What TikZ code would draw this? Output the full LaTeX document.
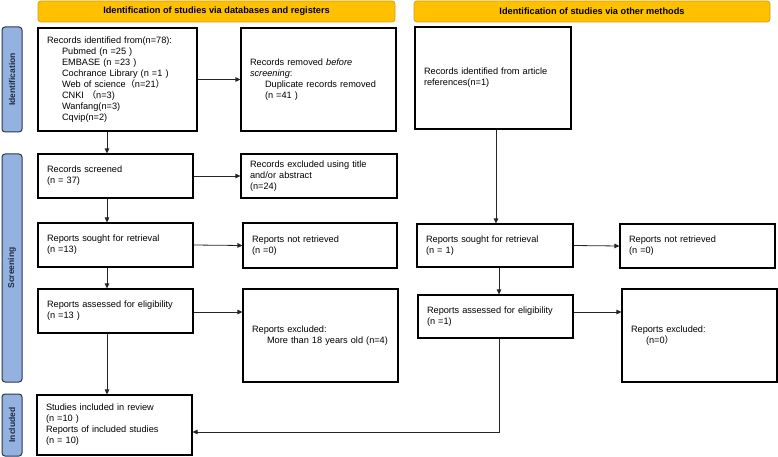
\documentclass[tikz,border=0pt]{standalone}
\usepackage{fontspec}
\setmainfont{Liberation Sans}
\newfontfamily\cjkf{Noto Sans CJK SC}
\usetikzlibrary{arrows.meta}
\hyphenpenalty=10000
\exhyphenpenalty=10000
\definecolor{banfill}{HTML}{FFC000}
\definecolor{banline}{HTML}{D4A017}
\definecolor{sidefill}{HTML}{94B2E0}
\definecolor{sideline}{HTML}{2B3550}
\definecolor{sidetext}{HTML}{1F2A44}
\newcommand{\fl}{{\cjkf （}}
\newcommand{\fr}{{\cjkf ）}}
\newcommand{\ind}{\hspace*{15pt}}
\tikzset{
  banner/.style={draw=banline, fill=banfill, line width=0.8pt, rounded corners=3pt,
    font=\fontsize{9.2}{11}\selectfont\bfseries, inner sep=0pt},
  side/.style={draw=sideline, fill=sidefill, line width=1pt, rounded corners=3pt,
    minimum width=20pt, inner sep=0pt},
  sidelabel/.style={rotate=90, text=sidetext, font=\fontsize{8.5}{10}\selectfont\bfseries},
  box/.style n args={2}{draw, line width=1.1pt, minimum height=#2, text width=#1-18pt,
    inner xsep=9pt, inner ysep=0pt, align=left, font=\fontsize{9.2}{11}\selectfont},
  arr/.style={draw=black!85, line width=0.8pt, -{Triangle[length=5pt,width=4.5pt]}}
}
\begin{document}
\begin{tikzpicture}[x=1pt,y=-1pt]
\useasboundingbox (0,0) rectangle (778,457);
% banners
\node[banner, minimum width=357pt, minimum height=21pt] (banL) at (216.5,11.5) {Identification of studies via databases and registers};
\node[banner, minimum width=356pt, minimum height=21pt] (banR) at (592,11.5) {Identification of studies via other methods};
% side labels
\node[side, minimum height=105pt] (sideI) at (12,79.5) {};
\node[sidelabel] (sideIt) at (sideI) {Identification};
\node[side, minimum height=228pt] (sideS) at (12,268) {};
\node[sidelabel] (sideSt) at (sideS) {Screening};
\node[side, minimum height=62pt] (sideC) at (12,425) {};
\node[sidelabel] (sideCt) at (sideC) {Included};
% boxes left
\node[box={159pt}{103pt}] (id) at (117.5,79.5) {Records identified from(n=78):\\
\ind Pubmed (n =25 )\\
\ind EMBASE (n =23 )\\
\ind Cochrance Library (n =1 )\\
\ind Web of science\fl n=21\fr\\
\ind CNKI \fl n=3)\\
\ind Wanfang(n=3)\\
\ind Cqvip(n=2)};
\node[box={155pt}{103pt}] (rem) at (318.5,79.5) {Records removed \textit{before}\\\textit{screening}:\\
\ind Duplicate records removed\\
\ind (n =41 )};
\node[box={156pt}{102pt}] (art) at (493,78) {Records identified from article references(n=1)};
\node[box={155pt}{44pt}] (scr) at (115.5,176) {Records screened\\(n = 37)};
\node[box={156pt}{44pt}] (exc) at (319,176) {Records excluded using title and/or abstract\\(n=24)};
\node[box={155pt}{44pt}] (soughtL) at (115.5,245) {Reports sought for retrieval\\(n =13)};
\node[box={154pt}{45pt}] (nrL) at (320,245.5) {Reports not retrieved\\(n =0)};
\node[box={156pt}{43pt}] (soughtR) at (495,245.5) {Reports sought for retrieval\\(n = 1)};
\node[box={155pt}{44pt}] (nrR) at (697.5,246) {Reports not retrieved\\(n =0)};
\node[box={155pt}{44pt}] (assL) at (115.5,311) {Reports assessed for eligibility\\(n =13 )};
\node[box={155pt}{93pt}] (exL) at (320.5,335.5) {Reports excluded:\\
\ind More than 18 years old (n=4)};
\node[box={155pt}{43pt}] (assR) at (495.5,316.5) {Reports assessed for eligibility\\(n =1)};
\node[box={155pt}{93pt}] (exR) at (699.5,335.5) {Reports excluded:\\
\ind (n=0\fr};
\node[box={155pt}{60pt}] (inc) at (114.5,425) {Studies included in review\\(n =10 )\\Reports of included studies\\(n = 10)};
% helper coordinates
\coordinate (xL) at (107,0);
\coordinate (xA) at (496,0);
\coordinate (xR) at (499,0);
\coordinate (y312) at (0,312);
\coordinate (y432) at (0,432);
% arrows
\draw[arr] (id.east) -- (rem.west);
\draw[arr] (id.south -| xL) -- (scr.north -| xL);
\draw[arr] (scr.east) -- (exc.west);
\draw[arr] (scr.south -| xL) -- (soughtL.north -| xL);
\draw[arr] (soughtL.east) -- (nrL.west);
\draw[arr] (soughtL.south -| xL) -- (assL.north -| xL);
\draw[arr] (assL.east |- y312) -- (exL.west |- y312);
\draw[arr] (assL.south -| xL) -- (inc.north -| xL);
\draw[arr] (art.south -| xA) -- (soughtR.north -| xA);
\draw[arr] (soughtR.east) -- (nrR.west);
\draw[arr] (soughtR.south -| xR) -- (assR.north -| xR);
\draw[arr] (assR.east |- y312) -- (exR.west |- y312);
\draw[arr] (assR.south -| xR) -- (xR |- y432) -- (inc.east |- y432);
\end{tikzpicture}
\end{document}
